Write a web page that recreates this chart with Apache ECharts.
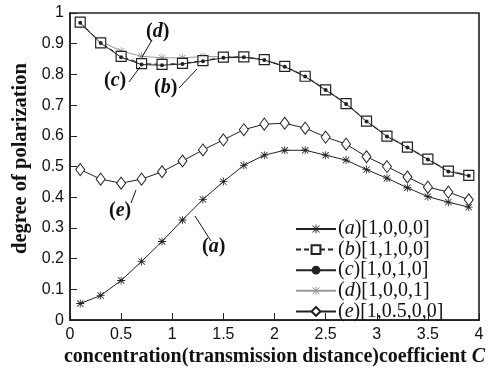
<!DOCTYPE html>
<html><head><meta charset="utf-8">
<script src="https://cdn.jsdelivr.net/npm/echarts@6/dist/echarts.min.js"></script>
<style>html,body{margin:0;padding:0;background:#fff}#c{width:490px;height:372px}</style>
</head><body><div id="c"></div>
<script>
const xValues = [0.1,0.3,0.5,0.7,0.9,1.1,1.3,1.5,1.7,1.9,2.1,2.3,2.5,2.7,2.9,3.1,3.3,3.5,3.7,3.9];
const seriesA = [0.054,0.080,0.129,0.191,0.256,0.326,0.393,0.451,0.504,0.537,0.553,0.553,0.537,0.521,0.490,0.462,0.431,0.402,0.384,0.368];
const seriesB = [0.970,0.903,0.859,0.835,0.833,0.836,0.845,0.856,0.857,0.848,0.826,0.794,0.750,0.705,0.648,0.599,0.563,0.524,0.485,0.471];
const seriesC = [0.968,0.902,0.856,0.832,0.830,0.834,0.843,0.854,0.856,0.847,0.825,0.793,0.749,0.704,0.647,0.598,0.562,0.523,0.484,0.470];
const seriesD = [0.962,0.908,0.876,0.859,0.854,0.854,0.858,0.858,0.857,0.849,0.827,0.796,0.752,0.707,0.650,0.601,0.565,0.526,0.487,0.473];
const seriesE = [0.490,0.459,0.446,0.459,0.483,0.518,0.554,0.587,0.620,0.638,0.641,0.625,0.596,0.573,0.532,0.500,0.466,0.433,0.417,0.392];
const names = ['(a)[1,0,0,0]','(b)[1,1,0,0]','(c)[1,0,1,0]','(d)[1,0,0,1]','(e)[1,0.5,0,0]'];
const letters = ['a','b','c','d','e'];

const star = 'path://M9,0 L11,0 L11,20 L9,20 Z M0,9 L20,9 L20,11 L0,11 Z M1.4,2.8 L2.8,1.4 L18.6,17.2 L17.2,18.6 Z M17.2,1.4 L18.6,2.8 L2.8,18.6 L1.4,17.2 Z';
function pairs(v){ return xValues.map((x,i)=>[x,v[i]]); }

const chart = echarts.init(document.getElementById('c'), null, {renderer:'canvas'});
const serif = 'Liberation Serif';
const sans = 'Liberation Sans';
const ann = (txt, x, y) => ({type:'text', left:x, top:y, z:100,
  style:{text:'({i|'+txt+'})', font:'bold 20px '+serif, fill:'#111',
    rich:{i:{fontStyle:'italic', fontWeight:'bold', fontFamily:serif, fontSize:20}}}});
const ln = (x1,y1,x2,y2) => ({type:'line', z:100, shape:{x1,y1,x2,y2}, style:{stroke:'#111', lineWidth:1}});

chart.setOption({
  animation:false,
  backgroundColor:'#fff',
  grid:{left:70, right:11, top:13, bottom:38, show:true, borderColor:'#222', borderWidth:1.6, backgroundColor:'transparent'},
  xAxis:{type:'value', min:0, max:4, interval:0.5,
    axisLine:{lineStyle:{color:'#222', width:1.6}},
    axisTick:{inside:true, length:7, lineStyle:{color:'#222'}},
    splitLine:{show:false},
    axisLabel:{color:'#111', fontFamily:sans, fontSize:16, margin:6},
    name:'concentration(transmission distance)coefficient {i|C}', nameLocation:'middle', nameGap:19,
    nameTextStyle:{fontFamily:serif, fontWeight:'bold', fontSize:20, color:'#111',
      rich:{i:{fontStyle:'italic', fontWeight:'bold', fontFamily:serif, fontSize:20}}}},
  yAxis:{type:'value', min:0, max:1, interval:0.1,
    axisLine:{lineStyle:{color:'#222', width:1.6}},
    axisTick:{inside:true, length:7, lineStyle:{color:'#222'}},
    splitLine:{show:false},
    axisLabel:{color:'#111', fontFamily:sans, fontSize:16, margin:6},
    name:'degree of polarization', nameLocation:'middle', nameGap:36,
    nameTextStyle:{fontFamily:serif, fontWeight:'bold', fontSize:20.5, color:'#111', padding:[0,0,0,16]}},
  legend:{orient:'vertical', left:290, top:214, itemWidth:40, itemHeight:11, itemGap:0.6,
    data:names,
    formatter:(n)=>{const i=names.indexOf(n); return '({i|'+letters[i]+'})'+n.slice(3);},
    textStyle:{fontFamily:serif, fontSize:20, lineHeight:20, color:'#111', padding:[0,0,0,-3],
      rich:{i:{fontStyle:'italic', fontFamily:serif, fontSize:20, lineHeight:20, color:'#111'}}}},
  series:[
    {name:names[0], type:'line', data:pairs(seriesA), symbol:star, symbolSize:8, z:5,
      lineStyle:{color:'#222', width:1}, itemStyle:{color:'#222'}},
    {name:names[1], type:'line', data:pairs(seriesB), symbol:'rect', symbolSize:10, z:3,
      lineStyle:{color:'#222', width:1, type:[5,3]}, itemStyle:{color:'#fff', borderColor:'#222', borderWidth:1.2}},
    {name:names[2], type:'line', data:pairs(seriesC), symbol:'circle', symbolSize:4, z:4,
      lineStyle:{color:'#222', width:1}, itemStyle:{color:'#222'}},
    {name:names[3], type:'line', data:pairs(seriesD), symbol:star, symbolSize:8, z:2,
      lineStyle:{color:'#999', width:1}, itemStyle:{color:'#999'}},
    {name:names[4], type:'line', data:pairs(seriesE), symbol:'diamond', symbolSize:[9,12], z:5,
      lineStyle:{color:'#222', width:1}, itemStyle:{color:'#fff', borderColor:'#222', borderWidth:1}}
  ],
  graphic:[
    ann('d',146,22), ln(152,40,142,57),
    ann('c',104,71), ln(129,82,140,67),
    ann('b',154,78), ln(179,88,197,69),
    ann('e',109,201), ln(131,203,136,190),
    ann('a',202,237), ln(211,241,195,216)
  ]
});
</script></body></html>
